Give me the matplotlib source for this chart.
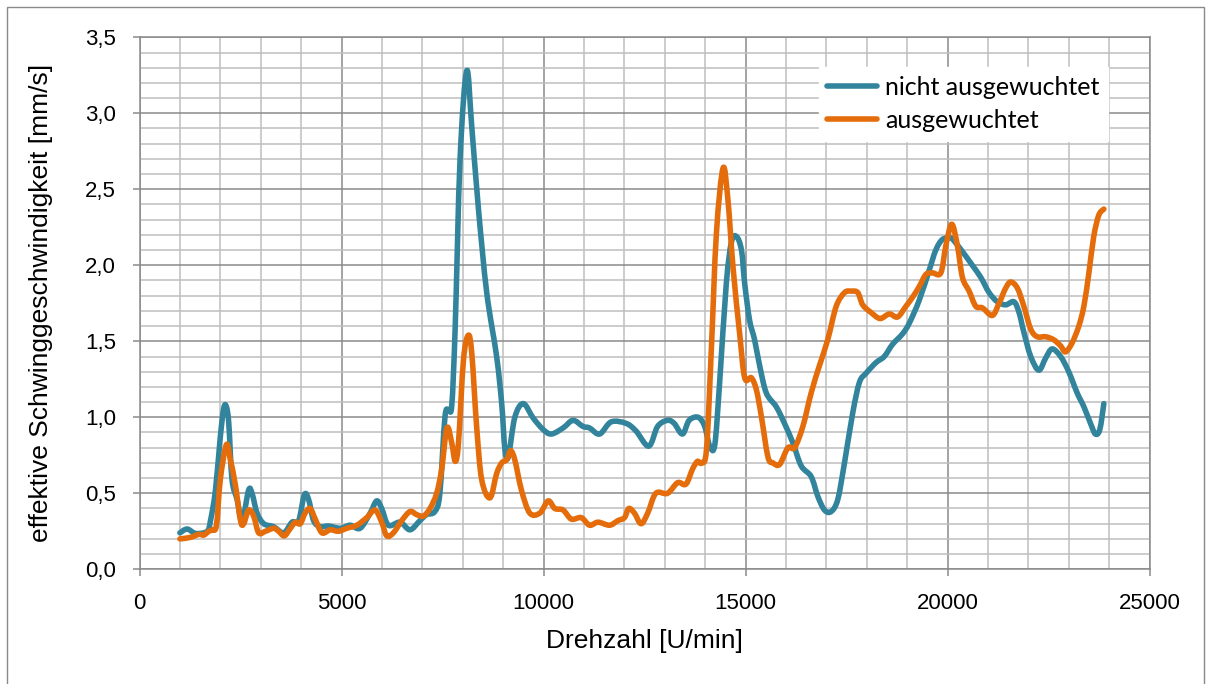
import matplotlib
matplotlib.use("Agg")
import numpy as np
import matplotlib.pyplot as plt
from matplotlib.ticker import MultipleLocator, FuncFormatter
from matplotlib.patches import Rectangle, PathPatch
from matplotlib.path import Path
from matplotlib.lines import Line2D

# nicht ausgewuchtet (blue)
rpm_nicht = [1000, 1180, 1390, 1675, 1757, 1880, 2000, 2085, 2150, 2210, 2290, 2415, 2540,
             2700, 2785, 2910, 3075, 3320, 3570, 3775, 3940, 4080, 4185, 4310, 4475, 4680,
             4965, 5215, 5460, 5710, 5870, 5995, 6160, 6450, 6695, 6940, 7105, 7310, 7435,
             7560, 7650, 7730, 7815, 7935, 8100, 8225, 8390, 8595, 8840, 8965, 9045, 9130,
             9290, 9500, 9745, 9990, 10195, 10485, 10730, 10975, 11140, 11390, 11675, 12045,
             12290, 12605, 12825, 13070, 13235, 13440, 13605, 13830, 13990, 14115, 14240,
             14360, 14525, 14650, 14775, 14900, 14980, 15100, 15225, 15350, 15515, 15760,
             15965, 16175, 16380, 16625, 16790, 16955, 17120, 17285, 17450, 17655, 17820,
             17985, 18230, 18435, 18640, 18890, 19055, 19300, 19550, 19710, 19875, 20080,
             20165, 20370, 20615, 20825, 21030, 21235, 21440, 21645, 21770, 21890, 22060,
             22260, 22430, 22590, 22800, 23000, 23210, 23375, 23540, 23660, 23770, 23870]
v_nicht = [0.24, 0.265, 0.236, 0.25, 0.32, 0.52, 0.87, 1.06, 1.07, 0.96, 0.59, 0.46, 0.32,
           0.52, 0.50, 0.37, 0.30, 0.28, 0.24, 0.31, 0.32, 0.49, 0.46, 0.32, 0.28, 0.285,
           0.27, 0.29, 0.27, 0.37, 0.45, 0.40, 0.29, 0.31, 0.26, 0.32, 0.36, 0.38, 0.50,
           1.00, 1.05, 1.08, 1.60, 2.70, 3.28, 2.91, 2.37, 1.82, 1.40, 1.09, 0.79, 0.74,
           1.00, 1.09, 0.995, 0.92, 0.89, 0.93, 0.98, 0.94, 0.93, 0.89, 0.97, 0.96,
           0.91, 0.81, 0.94, 0.98, 0.96, 0.89, 0.98, 1.00, 0.94, 0.81, 0.82,
           1.23, 1.88, 2.15, 2.19, 2.10, 1.88, 1.64, 1.51, 1.34, 1.16, 1.07,
           0.96, 0.83, 0.68, 0.61, 0.48, 0.39, 0.38, 0.46, 0.70, 1.03, 1.23,
           1.29, 1.36, 1.40, 1.48, 1.55, 1.62, 1.77, 1.97, 2.10, 2.17, 2.18,
           2.16, 2.09, 2.00, 1.92, 1.82, 1.76, 1.74, 1.76, 1.69, 1.56, 1.40,
           1.31, 1.39, 1.45, 1.40, 1.30, 1.16, 1.07, 0.96, 0.89, 0.92, 1.09]

# ausgewuchtet (orange)
rpm_aus = [1000, 1263, 1470, 1590, 1716, 1800, 1905, 2000, 2150, 2250, 2370, 2500, 2580,
           2700, 2825, 2950, 3115, 3320, 3445, 3585, 3735, 3860, 3980, 4100, 4225, 4350,
           4515, 4720, 4925, 5130, 5380, 5625, 5830, 5995, 6120, 6285, 6490, 6695, 6860,
           7025, 7190, 7355, 7480, 7610, 7730, 7815, 7895, 8020, 8140, 8225, 8345, 8470,
           8675, 8840, 8965, 9085, 9185, 9290, 9455, 9660, 9910, 10115, 10280, 10485,
           10690, 10935, 11140, 11350, 11635, 11840, 12005, 12110, 12250, 12415, 12580,
           12780, 13070, 13320, 13525, 13690, 13810, 13910, 14035, 14155, 14280, 14445,
           14565, 14690, 14855, 14980, 15145, 15270, 15390, 15555, 15680, 15845, 16050,
           16215, 16420, 16625, 16830, 17035, 17245, 17450, 17615, 17780, 17900, 18105,
           18330, 18560, 18765, 18970, 19135, 19300, 19465, 19630, 19835, 19960, 20105,
           20245, 20370, 20535, 20700, 20865, 21110, 21275, 21440, 21565, 21730, 21890,
           22060, 22220, 22430, 22630, 22800, 22920, 23085, 23250, 23375, 23500, 23620,
           23745, 23870]
v_aus = [0.20, 0.21, 0.23, 0.225, 0.25, 0.26, 0.29, 0.59, 0.82, 0.72, 0.56, 0.32, 0.30,
         0.39, 0.35, 0.24, 0.25, 0.27, 0.25, 0.22, 0.27, 0.31, 0.30, 0.37, 0.40, 0.33,
         0.24, 0.26, 0.25, 0.27, 0.29, 0.34, 0.39, 0.31, 0.22, 0.24, 0.32, 0.38, 0.36,
         0.35, 0.40, 0.50, 0.66, 0.93, 0.83, 0.71, 0.83, 1.38, 1.54, 1.42, 0.94, 0.59,
         0.47, 0.63, 0.70, 0.72, 0.78, 0.72, 0.52, 0.37, 0.37, 0.45, 0.40, 0.39,
         0.33, 0.34, 0.29, 0.31, 0.29, 0.32, 0.34, 0.40, 0.37, 0.30, 0.37,
         0.50, 0.50, 0.57, 0.56, 0.66, 0.71, 0.70, 0.79, 1.45, 2.21, 2.64,
         2.43, 1.99, 1.55, 1.26, 1.26, 1.18, 1.01, 0.74, 0.70, 0.69, 0.80,
         0.80, 0.94, 1.16, 1.34, 1.51, 1.73, 1.82, 1.83, 1.82, 1.74, 1.69,
         1.65, 1.68, 1.66, 1.73, 1.79, 1.86, 1.94, 1.95, 1.95, 2.13, 2.27,
         2.13, 1.92, 1.83, 1.73, 1.72, 1.67, 1.75, 1.85, 1.89, 1.85, 1.73,
         1.58, 1.53, 1.53, 1.51, 1.47, 1.43, 1.49, 1.60, 1.73, 1.95, 2.19,
         2.33, 2.37]

labels = ["nicht ausgewuchtet", "ausgewuchtet"]
blue = "#31849B"
orange = "#E46C0A"


def smooth_path(xs, ys, k=1 / 6):
    # smoothed line like Excel: bezier segments through every point
    p = np.column_stack([xs, ys]).astype(float)
    verts = [p[0]]
    codes = [Path.MOVETO]
    n = len(p)
    for i in range(n - 1):
        p0 = p[i - 1] if i > 0 else p[i]
        p3 = p[i + 2] if i + 2 < n else p[i + 1]
        c1 = p[i] + (p[i + 1] - p0) * k
        c2 = p[i + 1] - (p3 - p[i]) * k
        verts += [c1, c2, p[i + 1]]
        codes += [Path.CURVE4] * 3
    return Path(verts, codes)


plt.rcParams['font.family'] = ['Liberation Sans', 'DejaVu Sans']

fig = plt.figure(figsize=(12.12, 6.84), dpi=100)
ax = fig.add_axes([139.5 / 1212, (684 - 569.3) / 684, 1010 / 1212, 532 / 684])

# outer chart frame
fig.patches.append(Rectangle((7 / 1212, -0.01), 1197 / 1212, 1 - 7 / 684 + 0.01,
                             transform=fig.transFigure, fill=False,
                             edgecolor="#898989", linewidth=1.0))

lw = 4.0
for xs, ys, c, z in [(rpm_nicht, v_nicht, blue, 3), (rpm_aus, v_aus, orange, 4)]:
    ax.add_patch(PathPatch(smooth_path(xs, ys), fill=False, edgecolor=c, lw=lw,
                           joinstyle='round', capstyle='round', zorder=z))

ax.set_xlim(0, 25000)
ax.set_ylim(0, 3.5)
ax.xaxis.set_major_locator(MultipleLocator(5000))
ax.xaxis.set_minor_locator(MultipleLocator(1000))
ax.yaxis.set_major_locator(MultipleLocator(0.5))
ax.yaxis.set_minor_locator(MultipleLocator(0.1))
ax.yaxis.set_major_formatter(FuncFormatter(lambda v, p: f"{v:.1f}".replace(".", ",")))
ax.xaxis.set_major_formatter(FuncFormatter(lambda v, p: f"{int(v)}"))

ax.grid(which='major', color="#8a8a8a", lw=1.1)
ax.grid(which='minor', color="#bfbfbf", lw=1.1)
ax.set_axisbelow(True)
for s in ax.spines.values():
    s.set_color("#8a8a8a")
    s.set_linewidth(1.1)

ax.tick_params(which='major', length=5, width=1.1, color="#8a8a8a", labelsize=16)
ax.tick_params(axis='x', pad=12)
ax.tick_params(axis='y', pad=12)
ax.tick_params(which='minor', length=0)

ax.set_xlabel("Drehzahl [U/min]", fontsize=19, labelpad=11)
ax.set_ylabel("effektive Schwinggeschwindigkeit [mm/s]", fontsize=19, labelpad=23)

handles = [Line2D([], [], color=blue, lw=lw, solid_capstyle='round'),
           Line2D([], [], color=orange, lw=lw, solid_capstyle='round')]
leg = ax.legend(handles, labels, loc='upper right', bbox_to_anchor=(0.959, 0.944),
                frameon=True, fancybox=False, prop={'family': 'Lato', 'size': 18},
                handlelength=2.0, handletextpad=0.3, borderpad=0.35,
                labelspacing=0.4, borderaxespad=0)
leg.get_frame().set_facecolor("white")
leg.get_frame().set_edgecolor("white")
leg.get_frame().set_alpha(1)

fig.savefig("out.png", dpi=100)
